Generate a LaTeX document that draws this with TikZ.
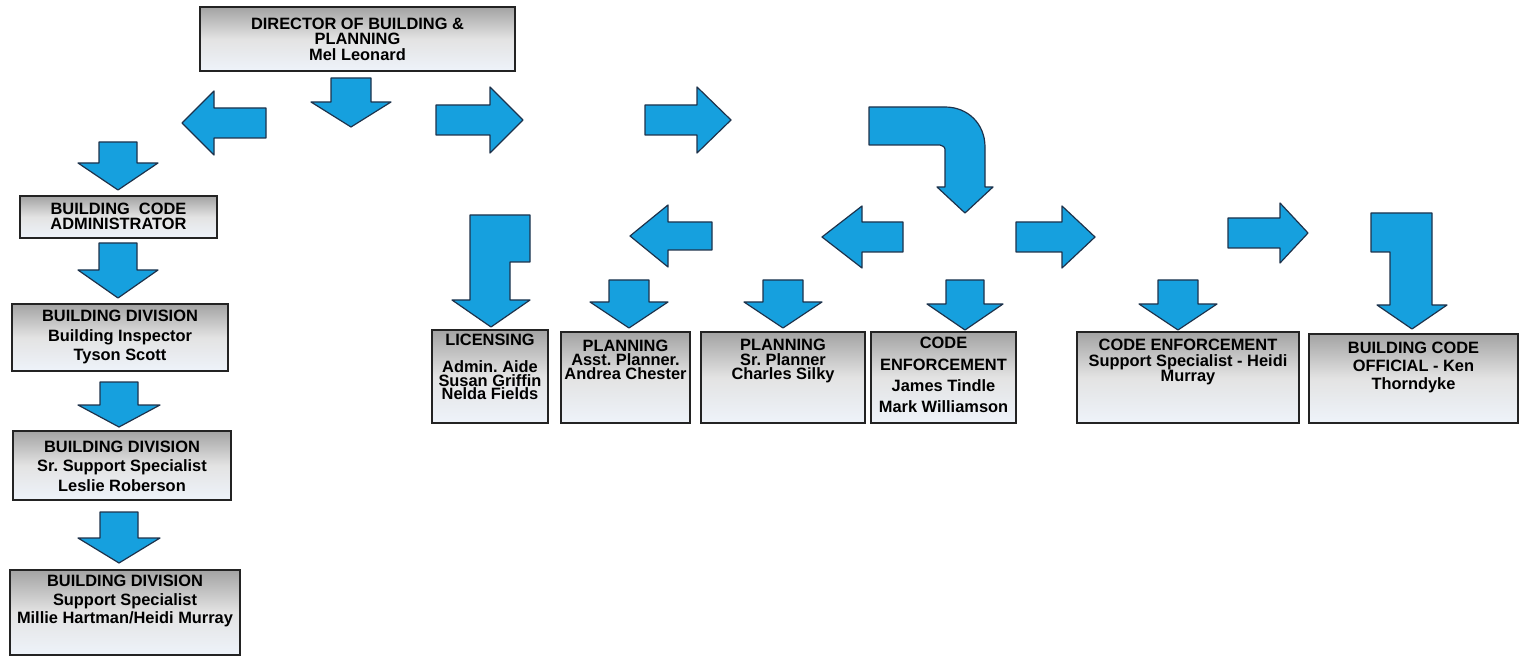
\documentclass[tikz,border=0pt]{standalone}
\usepackage{fontspec}
\setmainfont{Liberation Sans}
\frenchspacing
\definecolor{arrowblue}{RGB}{22,160,222}
\definecolor{arrowedge}{RGB}{30,50,75}
\definecolor{boxedge}{RGB}{35,35,35}
\definecolor{boxbottom}{RGB}{238,243,250}
\tikzset{
  barrow/.style={fill=arrowblue, draw=arrowedge, line width=0.6pt, line join=round},
  orgbox/.style={draw=boxedge, line width=1pt, top color=gray!72, bottom color=boxbottom, middle color=gray!22, inner sep=0pt},
  txt/.style={align=center, font=\fontsize{8.2}{9.8}\selectfont\bfseries, inner sep=0pt}
}
% cx, y0, shaft half width, y1 (head base), head half width, tip y
\newcommand\myDownArr[6]{\draw[barrow] ({#1-#3},#2) -- ({#1+#3},#2) -- ({#1+#3},#4) -- ({#1+#5},#4) -- (#1,#6) -- ({#1-#5},#4) -- ({#1-#3},#4) -- cycle;}
% tip x, cy, head base x, shaft half, head half, tail x
\newcommand\myHorizArr[6]{\draw[barrow] (#1,#2) -- (#3,{#2-#5}) -- (#3,{#2-#4}) -- (#6,{#2-#4}) -- (#6,{#2+#4}) -- (#3,{#2+#4}) -- (#3,{#2+#5}) -- cycle;}
\begin{document}
\begin{tikzpicture}[x=0.5pt,y=-0.5pt]
\useasboundingbox (0,0) rectangle (1521,663);

% ---------- boxes ----------
\node[orgbox, minimum width=157.5pt, minimum height=32pt] (dir) at (357.5,39) {};
\node[txt, font=\fontsize{8.2}{7.8}\selectfont\bfseries] (dirT) at (357.5,39) {DIRECTOR OF BUILDING \&\\PLANNING\\Mel Leonard};

\node[orgbox, minimum width=98.5pt, minimum height=21pt] (bca) at (118.5,217) {};
\node[txt, font=\fontsize{8.2}{7.6}\selectfont\bfseries] (bcaT) at (118.5,216) {BUILDING\ \ CODE\\ADMINISTRATOR};

\node[orgbox, minimum width=108pt, minimum height=33.5pt] (bd1) at (120,337.5) {};
\node[txt] (bd1T) at (120,337) {BUILDING DIVISION\\Building Inspector\\Tyson Scott};

\node[orgbox, minimum width=109pt, minimum height=34.5pt] (bd2) at (122,465.5) {};
\node[txt] (bd2T) at (122,466) {BUILDING DIVISION\\Sr. Support Specialist\\Leslie Roberson};

\node[orgbox, minimum width=115pt, minimum height=42.5pt] (bd3) at (125,612.5) {};
\node[txt, font=\fontsize{8.2}{9.4}\selectfont\bfseries] (bd3T) at (125,601) {BUILDING DIVISION\\Support Specialist\\Millie Hartman/Heidi Murray};

\node[orgbox, minimum width=58pt, minimum height=46.5pt] (lic) at (490,376.5) {};
\node[txt, font=\fontsize{8.2}{6.8}\selectfont\bfseries] (licT) at (490,367) {LICENSING\\[6.6pt]Admin. Aide\\Susan Griffin\\Nelda Fields};

\node[orgbox, minimum width=64.5pt, minimum height=45.5pt] (pa) at (625.5,377.5) {};
\node[txt, font=\fontsize{8.2}{6.9}\selectfont\bfseries] (paT) at (625.5,360) {PLANNING\\Asst. Planner.\\Andrea Chester};

\node[orgbox, minimum width=82pt, minimum height=45.5pt] (ps) at (783,377.5) {};
\node[txt, font=\fontsize{8.2}{7.1}\selectfont\bfseries] (psT) at (783,361) {PLANNING\\Sr. Planner\\Charles Silky};

\node[orgbox, minimum width=72.5pt, minimum height=45.5pt] (cej) at (943.5,377.5) {};
\node[txt, font=\fontsize{8.2}{10.6}\selectfont\bfseries] (cejT) at (943.5,375) {CODE\\ENFORCEMENT\\James Tindle\\Mark Williamson};

\node[orgbox, minimum width=111pt, minimum height=45.5pt] (ces) at (1188,377.5) {};
\node[txt, font=\fontsize{8.2}{7.9}\selectfont\bfseries] (cesT) at (1188,362) {CODE ENFORCEMENT\\Support Specialist - Heidi\\Murray};

\node[orgbox, minimum width=104.5pt, minimum height=44.5pt] (bco) at (1413.5,378.5) {};
\node[txt, font=\fontsize{8.2}{9}\selectfont\bfseries] (bcoT) at (1413.5,367) {BUILDING CODE\\OFFICIAL - Ken\\Thorndyke};

% ---------- arrows ----------
% top row
\myDownArr{351}{78}{20}{102}{40}{127}
\myHorizArr{182}{123}{214}{15}{32}{266}
\myHorizArr{523}{120}{490}{15}{33}{436}
\myHorizArr{731}{120}{697}{15}{33}{645}
% rounded bent arrow
\draw[barrow] (869,107) -- (945,107) .. controls (968,107) and (985,124) .. (985,147)
  -- (985,187) -- (993,187) -- (965,213) -- (937,187) -- (945,187) -- (945,152)
  .. controls (945,147) .. (940,145) -- (869,145) -- cycle;

% left column
\myDownArr{118}{142}{19}{163}{40}{190}
\myDownArr{118}{243}{19}{270}{40}{298}
\myDownArr{119}{382}{19}{405}{41}{427}
\myDownArr{119}{512}{19}{538}{41}{563}

% second row horizontal
\myHorizArr{630}{236}{668}{14}{31}{712}
\myHorizArr{822}{237}{862}{15}{31}{903}
\myHorizArr{1095}{237}{1062}{15}{31}{1016}
\myHorizArr{1308}{233}{1280}{15}{30}{1228}

% down arrows into boxes
\myDownArr{629}{280}{20}{302}{39}{328}
\myDownArr{783}{280}{20}{302}{39}{328}
\myDownArr{965}{280}{19}{304}{38}{330}
\myDownArr{1178}{280}{20}{304}{39}{330}

% licensing bent arrow
\draw[barrow] (470,215) -- (530,215) -- (530,262) -- (510,262) -- (510,300) -- (530,300)
  -- (491,327) -- (452,300) -- (470,300) -- cycle;
% building code official bent arrow
\draw[barrow] (1371,213) -- (1432,213) -- (1432,305) -- (1447,305) -- (1412,329)
  -- (1377,305) -- (1390,305) -- (1390,252) -- (1371,252) -- cycle;
\end{tikzpicture}
\end{document}
